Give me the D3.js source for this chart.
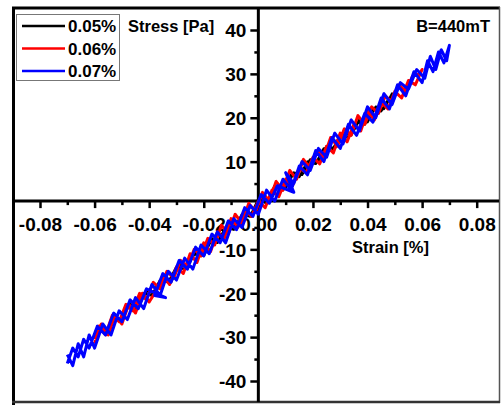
<!DOCTYPE html>
<html>
<head>
<meta charset="utf-8">
<script src="https://cdn.jsdelivr.net/npm/d3@7"></script>
<style>
    body { margin: 0; background: white; }
    text { font-family: "Liberation Sans", Arial, sans-serif; font-weight: bold; }
</style>
</head>
<body>
<script>
// data: strain [%] and stress [Pa], one cycle each
const blackStrain = [-0.050, -0.047, -0.044, -0.041, -0.038, -0.035, -0.032, -0.029, -0.026, -0.023, -0.020, -0.017, -0.014, -0.011, -0.008, -0.005, -0.002, 0.001, 0.004, 0.007, 0.010, 0.013, 0.016, 0.019, 0.022, 0.025, 0.028, 0.031, 0.034, 0.037, 0.040, 0.043, 0.046, 0.049, 0.050,
    0.048, 0.045, 0.042, 0.039, 0.036, 0.033, 0.030, 0.027, 0.024, 0.021, 0.018, 0.015, 0.012, 0.009, 0.006, 0.003, 0.000, -0.003, -0.006, -0.009, -0.012, -0.015, -0.018, -0.021, -0.024, -0.027, -0.030, -0.033, -0.036, -0.039, -0.042, -0.045, -0.048, -0.050];
const blackStress = [-25.5, -22.5, -23.0, -19.5, -20.0, -16.5, -17.5, -13.5, -14.0, -10.5, -11.5, -7.5, -8.0, -4.0, -5.0, -1.5, -2.0, 1.5, 1.0, 4.5, 4.0, 7.5, 7.0, 10.5, 10.0, 13.5, 13.0, 16.5, 16.0, 19.5, 19.0, 22.5, 22.0, 25.5, 25.0,
    24.5, 21.5, 22.0, 18.5, 19.0, 15.5, 16.0, 12.5, 13.0, 9.5, 10.0, 6.5, 7.0, 3.5, 4.5, 0.5, 1.5, -2.5, -2.0, -5.5, -5.0, -8.5, -8.0, -11.5, -11.0, -14.5, -14.0, -17.5, -17.0, -20.5, -20.0, -23.5, -23.0, -25.5];

const redStrain = [-0.0600, -0.0575, -0.0550, -0.0525, -0.0500, -0.0475, -0.0450, -0.0425, -0.0400, -0.0375, -0.0350, -0.0325, -0.0300, -0.0275, -0.0250, -0.0225, -0.0200, -0.0175, -0.0150, -0.0125, -0.0100, -0.0075, -0.0050, -0.0025, 0.0000, 0.0025, 0.0050, 0.0075, 0.0100, 0.0125, 0.0150, 0.0175, 0.0200, 0.0225, 0.0250, 0.0275, 0.0300, 0.0325, 0.0350, 0.0375, 0.0400, 0.0425, 0.0450, 0.0475, 0.0500, 0.0525, 0.0550, 0.0575, 0.0600,
    0.0590, 0.0565, 0.0540, 0.0515, 0.0490, 0.0465, 0.0440, 0.0415, 0.0390, 0.0365, 0.0340, 0.0315, 0.0290, 0.0265, 0.0240, 0.0215, 0.0190, 0.0165, 0.0140, 0.0115, 0.0090, 0.0065, 0.0040, 0.0015, -0.0010, -0.0035, -0.0060, -0.0085, -0.0110, -0.0135, -0.0160, -0.0185, -0.0210, -0.0235, -0.0260, -0.0285, -0.0310, -0.0335, -0.0360, -0.0385, -0.0410, -0.0435, -0.0460, -0.0485, -0.0510, -0.0535, -0.0560, -0.0585, -0.0600];
const redStress = [-30.5, -27.0, -29.5, -25.0, -27.0, -22.5, -24.5, -20.0, -22.0, -19.5, -16.0, -18.0, -14.0, -15.5, -11.0, -13.0, -8.5, -10.5, -6.0, -7.5, -3.0, -5.0, -1.0, -2.5, 1.0, -0.5, 3.5, 2.0, 6.0, 4.5, 8.5, 7.5, 11.0, 9.5, 13.5, 12.0, 16.5, 14.5, 18.5, 17.0, 21.5, 19.5, 23.5, 22.0, 26.0, 24.5, 28.5, 27.5, 31.0,
    30.0, 29.5, 26.0, 27.5, 23.5, 25.0, 21.0, 22.5, 18.5, 20.5, 16.0, 17.5, 13.5, 15.5, 11.0, 12.5, 8.5, 10.5, 6.0, 8.0, 3.5, 5.5, 1.0, 3.0, -1.5, 0.5, -4.0, -2.0, -6.5, -4.5, -9.0, -7.5, -11.5, -10.0, -14.0, -12.5, -16.5, -15.0, -19.0, -17.5, -21.5, -20.0, -24.0, -22.5, -26.5, -25.0, -29.5, -27.5, -31.5];

const blueStrain = [-0.070, -0.068, -0.066, -0.064, -0.062, -0.060, -0.057, -0.054, -0.051, -0.048, -0.045, -0.042, -0.039, -0.036, -0.033, -0.030, -0.027, -0.024, -0.021, -0.018, -0.015, -0.012, -0.009, -0.006, -0.003, 0.000, 0.003, 0.006, 0.009, 0.012, 0.015, 0.018, 0.021, 0.024, 0.027, 0.030, 0.033, 0.036, 0.039, 0.042, 0.045, 0.048, 0.051, 0.054, 0.057, 0.060, 0.062, 0.064, 0.066, 0.068, 0.070,
    0.069, 0.067, 0.065, 0.063, 0.061, 0.058, 0.055, 0.052, 0.049, 0.046, 0.043, 0.040, 0.037, 0.034, 0.031, 0.028, 0.025, 0.022, 0.019, 0.016, 0.013, 0.010, 0.013, 0.007, 0.004, 0.001, -0.002, -0.005, -0.008, -0.011, -0.014, -0.017, -0.020, -0.023, -0.026, -0.029, -0.032, -0.035, -0.038, -0.034, -0.041, -0.044, -0.047, -0.050, -0.053, -0.056, -0.059, -0.062, -0.064, -0.066, -0.068, -0.070];
const blueStress = [-34.0, -36.5, -31.5, -34.5, -29.5, -32.5, -27.0, -29.5, -24.0, -26.0, -21.0, -23.5, -18.0, -20.5, -15.0, -17.0, -12.0, -14.5, -9.0, -11.0, -6.0, -8.5, -3.0, -5.0, 0.0, -2.0, 3.5, 1.0, 6.0, 3.5, 9.0, 7.0, 12.5, 10.0, 15.5, 13.0, 18.5, 16.0, 21.0, 19.0, 24.5, 22.0, 27.5, 25.0, 30.5, 28.0, 33.0, 30.5, 35.0, 32.5, 36.5,
    33.0, 35.5, 31.0, 34.0, 29.0, 31.0, 26.5, 28.0, 23.0, 25.5, 20.0, 22.5, 17.0, 19.5, 14.0, 16.5, 11.0, 13.0, 8.0, 10.0, 5.0, 7.5, 3.0, 4.5, 0.5, 2.5, -2.5, -0.5, -5.5, -3.5, -8.5, -6.5, -11.5, -9.5, -14.5, -12.5, -17.5, -15.5, -20.5, -21.0, -19.0, -23.5, -21.5, -26.5, -24.5, -29.5, -27.5, -32.5, -30.5, -34.5, -32.5, -36.0];

const seriesNames = ["0.05%", "0.06%", "0.07%"];
const seriesColors = ["black", "red", "blue"];

const xTicks = [-0.08, -0.06, -0.04, -0.02, 0.00, 0.02, 0.04, 0.06, 0.08];
const xMinorTicks = [-0.07, -0.05, -0.03, -0.01, 0.01, 0.03, 0.05, 0.07];
const yTicks = [-40, -30, -20, -10, 10, 20, 30, 40];
const yMinorTicks = [-35, -25, -15, -5, 5, 15, 25, 35];

window.onload = main;

function main() {
    const W = 502, H = 405;

    const svg = d3.select("body")
        .append("svg")
        .attr("width", W)
        .attr("height", H);

    const x = d3.scaleLinear().domain([-0.08, 0.08]).range([40, 476.7]);
    const y = d3.scaleLinear().domain([-40, 40]).range([381, 30]);

    // the x axis sits a touch above zero in the picture
    const xAxisAt = 1;
    const fmt = f => (d => d3.format(f)(d).replace("\u2212", "-"));

    // frame
    svg.append("line").attr("x1", 13.5).attr("x2", 13.5).attr("y1", 7).attr("y2", 405)
        .attr("stroke", "black").attr("stroke-width", 3);
    svg.append("line").attr("x1", 12).attr("x2", 500).attr("y1", 8).attr("y2", 8)
        .attr("stroke", "black").attr("stroke-width", 3);
    svg.append("line").attr("x1", 499.5).attr("x2", 499.5).attr("y1", 7).attr("y2", 403)
        .attr("stroke", "#555").attr("stroke-width", 1.5);
    svg.append("line").attr("x1", 12).attr("x2", 500).attr("y1", 402).attr("y2", 402)
        .attr("stroke", "#333").attr("stroke-width", 2.5);

    // X axis (ticks pointing down)
    const xAxis = svg.append("g")
        .attr("transform", `translate(0,${y(xAxisAt)})`)
        .call(d3.axisBottom(x).tickValues(xTicks).tickSize(7).tickPadding(9)
            .tickFormat(fmt(".2f")));
    svg.append("g")
        .attr("transform", `translate(0,${y(xAxisAt)})`)
        .call(d3.axisBottom(x).tickValues(xMinorTicks).tickSize(4).tickFormat(""))
        .select(".domain").remove();
    xAxis.select(".domain").attr("d", `M14,0H499`).attr("stroke-width", 3);

    // Y axis (ticks pointing left)
    const yAxis = svg.append("g")
        .attr("transform", `translate(${x(0)},0)`)
        .call(d3.axisLeft(y).tickValues(yTicks).tickSize(8).tickPadding(4).tickFormat(fmt("d")));
    svg.append("g")
        .attr("transform", `translate(${x(0)},0)`)
        .call(d3.axisLeft(y).tickValues(yMinorTicks).tickSize(4).tickFormat(""))
        .select(".domain").remove();
    yAxis.select(".domain").attr("d", `M0,8V402`).attr("stroke-width", 3);

    svg.selectAll(".tick line").attr("stroke-width", 2.5);
    xAxis.selectAll("text").style("font-size", "19px").attr("fill", "black");
    yAxis.selectAll("text").style("font-size", "19px").attr("fill", "black").attr("dy", "0.36em");

    // curves
    const line = d3.line().x(d => x(d[0])).y(d => y(d[1]));
    const series = [
        d3.zip(blackStrain, blackStress),
        d3.zip(redStrain, redStress),
        d3.zip(blueStrain, blueStress)
    ];
    const widths = [2.5, 3, 3];
    series.forEach((pts, i) => {
        svg.append("path")
            .datum(pts)
            .attr("fill", "none")
            .attr("stroke", seriesColors[i])
            .attr("stroke-width", widths[i])
            .attr("stroke-linejoin", "round")
            .attr("d", line);
    });

    // axis titles and note
    svg.append("text").attr("x", 128).attr("y", 32).style("font-size", "16.5px").text("Stress [Pa]");
    svg.append("text").attr("x", 352).attr("y", 253).style("font-size", "16.5px").text("Strain [%]");
    svg.append("text").attr("x", 490).attr("y", 32).attr("text-anchor", "end")
        .style("font-size", "16.5px").text("B=440mT");

    // legend
    const legend = svg.append("g");
    legend.append("rect")
        .attr("x", 16.5).attr("y", 14.5).attr("width", 103).attr("height", 66)
        .attr("fill", "white").attr("stroke", "#777").attr("stroke-width", 1);
    seriesNames.forEach((name, i) => {
        const ly = 26 + i * 22.5;
        legend.append("line")
            .attr("x1", 22).attr("x2", 65).attr("y1", ly).attr("y2", ly)
            .attr("stroke", seriesColors[i]).attr("stroke-width", 2.5);
        legend.append("text")
            .attr("x", 68).attr("y", ly + 6)
            .style("font-size", "17px")
            .text(name);
    });
}
</script>
</body>
</html>
